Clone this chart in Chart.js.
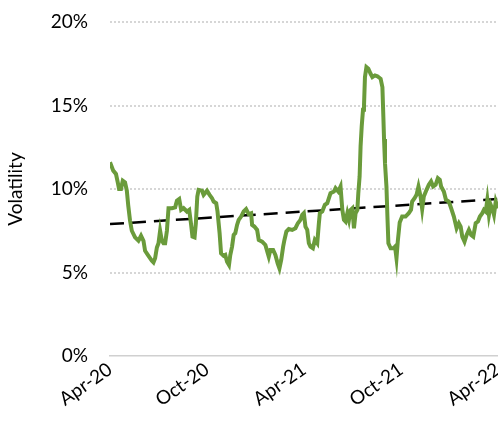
<!DOCTYPE html>
<html>
<head>
<meta charset="utf-8">
<script src="https://cdn.jsdelivr.net/npm/chart.js@4"></script>
<style>
  html, body { margin: 0; padding: 0; background: #fff; }
  #wrap { width: 498px; height: 425px; }
</style>
</head>
<body>
<div id="wrap"><canvas id="vol-chart"></canvas></div>
<script>
// x positions are months since Apr-20
const months = [
  0, 0.20, 0.37, 0.48, 0.56, 0.68, 0.79, 0.93, 1.04, 1.13, 1.24, 1.35, 1.55, 1.76, 1.92,
  2.07, 2.17, 2.38, 2.59, 2.69, 2.79, 2.90, 3.00, 3.10, 3.21, 3.31, 3.41, 3.52, 3.62, 3.83,
  4.03, 4.14, 4.28, 4.40, 4.55, 4.76, 4.90, 5.02, 5.10, 5.23, 5.31, 5.40, 5.48, 5.69, 5.79,
  6.00, 6.16, 6.31, 6.41, 6.57, 6.65, 6.78, 6.87, 7.03, 7.13, 7.24, 7.36, 7.44, 7.55, 7.65,
  7.75, 7.86, 7.96, 8.11, 8.27, 8.42, 8.58, 8.73, 8.79, 8.93, 9.10, 9.20, 9.41, 9.61, 9.82,
  9.92, 10.09, 10.23, 10.37, 10.48, 10.59, 10.71, 10.79, 10.91, 11.06, 11.27, 11.47, 11.62, 11.78,
  11.89, 11.99, 12.09, 12.20, 12.30, 12.40, 12.55, 12.67, 12.82, 12.92, 12.98, 13.13, 13.29, 13.44,
  13.64, 13.85, 13.95, 14.12, 14.26, 14.37, 14.47, 14.57, 14.68, 14.78, 14.88, 14.99, 15.09, 15.19,
  15.30, 15.36, 15.44, 15.50, 15.57, 15.65, 15.71, 15.77, 15.86, 15.98, 16.12, 16.23, 16.39, 16.54,
  16.74, 16.85, 16.91, 16.95, 17.01, 17.10, 17.16, 17.22, 17.36, 17.53, 17.63, 17.72, 17.80, 17.92,
  18.07, 18.28, 18.48, 18.62, 18.69, 18.84, 18.96, 19.08, 19.21, 19.31, 19.41, 19.58, 19.72, 19.86,
  19.99, 20.14, 20.28, 20.40, 20.48, 20.65, 20.78, 20.96, 21.10, 21.27, 21.44, 21.58, 21.69, 21.79,
  21.93, 22.06, 22.20, 22.34, 22.47, 22.62, 22.76, 22.88, 23.03, 23.13, 23.24, 23.34, 23.44, 23.55,
  23.67, 23.75, 23.86, 23.96, 24.0
];
const volatility = [
  11.6, 11.1, 10.9, 10.4, 10.0, 10.0, 10.5, 10.4, 9.9, 9.0, 8.1, 7.5, 7.1, 6.9, 7.2,
  6.9, 6.3, 6.0, 5.7, 5.6, 5.85, 6.5, 6.75, 7.5, 6.9, 6.75, 6.75, 7.5, 8.85, 8.85,
  8.9, 9.3, 9.4, 8.75, 8.85, 8.65, 8.75, 7.85, 7.15, 7.1, 7.95, 9.55, 9.95, 9.9, 9.65,
  9.9, 9.65, 9.45, 9.25, 9.15, 8.65, 7.35, 6.15, 6.0, 6.05, 5.65, 5.45, 6.05, 6.55, 7.25,
  7.35, 7.85, 8.15, 8.35, 8.65, 8.8, 8.5, 8.55, 7.85, 7.75, 7.55, 6.95, 6.85, 6.65, 5.95,
  6.35, 6.35, 6.05, 5.55, 5.25, 5.75, 6.55, 6.95, 7.45, 7.6, 7.55, 7.65, 7.95, 8.15,
  8.45, 8.55, 7.75, 7.55, 6.75, 6.55, 6.45, 6.95, 6.75, 7.95, 8.55, 8.65, 9.05, 9.15,
  9.75, 9.85, 10.05, 9.85, 10.15, 8.75, 8.15, 8.05, 8.55, 8.15, 8.75, 8.85, 7.65, 8.55,
  8.75, 9.75, 10.75, 12.55, 13.75, 14.75, 14.95, 16.7, 17.3, 17.2, 16.9, 16.7, 16.8, 16.75,
  16.6, 16.1, 14.3, 13.0, 11.55, 10.15, 8.35, 6.75, 6.45, 6.45, 6.55, 5.85, 6.85, 8.0,
  8.35, 8.35, 8.55, 8.75, 9.25, 9.45, 9.65, 10.15, 9.55, 8.8, 9.55, 9.95, 10.25, 10.45,
  10.15, 10.25, 10.65, 10.55, 10.15, 9.85, 9.35, 9.25, 8.85, 8.35, 7.65, 7.95, 7.75, 7.15,
  6.85, 7.25, 7.55, 7.25, 7.15, 7.95, 8.05, 8.35, 8.55, 8.75, 8.65, 9.35, 8.45, 9.05,
  8.75, 8.45, 9.25, 8.95, 8.85
];
const trendMonths = [0, 24];
const trendValues = [7.9, 9.4];
const tickMonths = [0, 6, 12, 18, 24];
const tickLabels = ['Apr-20', 'Oct-20', 'Apr-21', 'Oct-21', 'Apr-22'];

const FONT = 'Lato, "Noto Sans", sans-serif';

const ctx = document.getElementById('vol-chart').getContext('2d');
const chart = new Chart(ctx, {
    type: 'line',
    data: {
        datasets: [
            {
                label: 'Volatility',
                data: months.map((m, i) => ({ x: m, y: volatility[i] })),
                borderColor: '#6A9B3B',
                borderWidth: 4,
                pointRadius: 0,
                tension: 0,
                fill: false,
            },
            {
                label: 'Trend',
                data: trendMonths.map((m, i) => ({ x: m, y: trendValues[i] })),
                borderColor: '#000000',
                borderWidth: 2.5,
                borderDash: [14, 8],
                pointRadius: 0,
                fill: false,
            },
        ],
    },
    options: {
        responsive: true,
        maintainAspectRatio: false,
        animation: false,
        layout: { padding: { top: 0, right: 0, left: 0, bottom: 0 } },
        plugins: {
            legend: { display: false },
            tooltip: { enabled: false },
        },
        scales: {
            x: {
                type: 'linear',
                min: 0,
                max: 24,
                afterBuildTicks: (axis) => {
                    axis.ticks = tickMonths.map(v => ({ value: v }));
                },
                afterFit: (axis) => {
                    axis.height = 69;
                    axis.paddingLeft = 0;
                    axis.paddingRight = 0;
                },
                ticks: {
                    autoSkip: false,
                    minRotation: 35,
                    maxRotation: 35,
                    padding: 2,
                    color: '#000',
                    font: { family: FONT, size: 19 },
                    callback: (v) => tickLabels[tickMonths.indexOf(v)],
                },
                grid: { display: false, drawTicks: false },
                border: { display: true, color: '#d0d0d0', width: 1.5 },
            },
            y: {
                min: 0,
                max: 20,
                afterFit: (axis) => {
                    axis.width = 110;
                    axis.paddingTop = 22;
                    axis.paddingBottom = 0;
                },
                ticks: {
                    stepSize: 5,
                    padding: 22,
                    color: '#000',
                    font: { family: FONT, size: 19 },
                    callback: (v) => v + '%',
                },
                title: {
                    display: true,
                    text: 'Volatility',
                    color: '#000',
                    font: { family: FONT, size: 19 },
                    padding: { top: 4, bottom: 0 },
                },
                grid: {
                    drawTicks: false,
                    color: (c) => c.tick.value === 0 ? 'rgba(0,0,0,0)' : '#d6d6d6',
                    lineWidth: 2,
                },
                border: { display: false, dash: [2, 2] },
            },
        },
    },
});
</script>
</body>
</html>
